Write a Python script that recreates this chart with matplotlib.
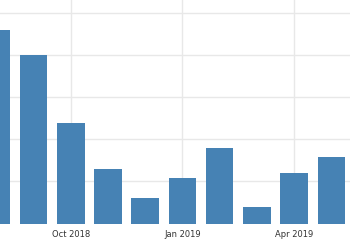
import matplotlib
matplotlib.use("Agg")
from matplotlib import pyplot as plt

months = ["Aug 2018", "Sep 2018", "Oct 2018", "Nov 2018", "Dec 2018",
          "Jan 2019", "Feb 2019", "Mar 2019", "Apr 2019", "May 2019"]
values = [4.61, 4.0, 2.40, 1.29, 0.60, 1.08, 1.79, 0.40, 1.20, 1.59]
tick_months = ["Oct 2018", "Jan 2019", "Apr 2019"]

fig = plt.figure(figsize=(3.5, 2.5), dpi=100)
ax = fig.add_axes([0, 0.106, 1, 0.894])

x = list(range(len(months)))
ax.bar(x, values, width=0.74, color="#4682b4", zorder=2)

ticks = [months.index(m) for m in tick_months]
ax.set_xticks(ticks)
ax.set_xticklabels(tick_months)
ax.set_yticks([1, 2, 3, 4, 5])
ax.set_yticklabels([])
ax.tick_params(length=0, labelsize=6, labelcolor="#333333", pad=4.5)
ax.grid(True, color="#e8e8e8", linewidth=1, zorder=0)

ax.set_xlim(0.1, 9.5)
ax.set_ylim(0, 5.32)
for s in ax.spines.values():
    s.set_visible(False)

fig.savefig("out.png", dpi=100)
